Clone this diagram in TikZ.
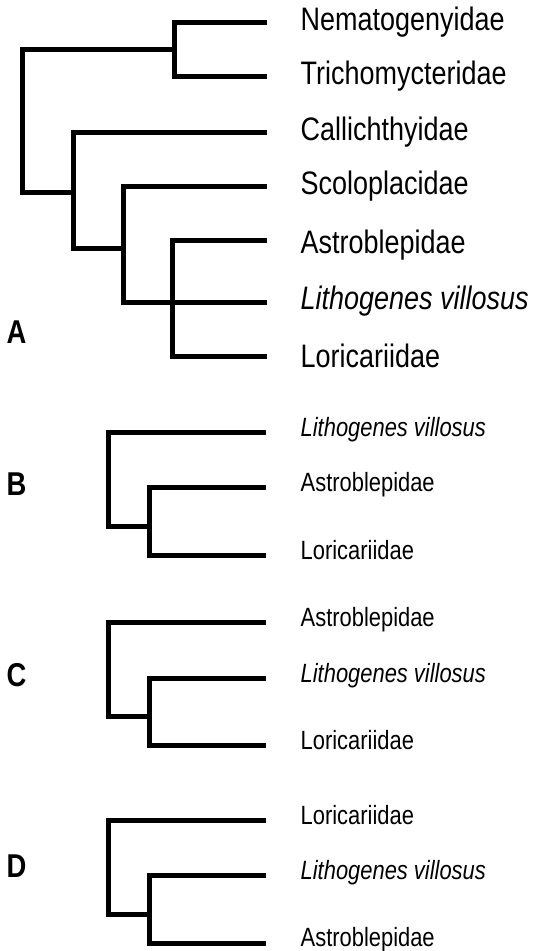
\documentclass[tikz,border=0pt]{standalone}
\usepackage{fontspec}
\setmainfont{Liberation Sans}
\newfontfamily\taxfont[FakeStretch=0.83]{Liberation Sans}
\begin{document}
\begin{tikzpicture}[x=1pt,y=-1pt,
  branch/.style={line width=5pt, line cap=butt, line join=miter, black},
  big/.style={font=\taxfont\fontsize{32.5}{39}\selectfont, anchor=base west, inner sep=0pt},
  small/.style={font=\taxfont\fontsize{26.4}{32}\selectfont, anchor=base west, inner sep=0pt},
  panel/.style={font=\taxfont\bfseries\fontsize{33}{40}\selectfont, anchor=base west, inner sep=0pt}]
\useasboundingbox (0,0) rectangle (535,951);

% ---------------- Panel A ----------------
\node[panel] (labA) at (6.5,343.3) {A};
\node[big] (a1) at (300.5,30.7) {Nematogenyidae};
\node[big] (a2) at (300.5,84.3) {Trichomycteridae};
\node[big] (a3) at (300.5,140) {Callichthyidae};
\node[big] (a4) at (300.5,194.3) {Scoloplacidae};
\node[big] (a5) at (300.5,253.3) {Astroblepidae};
\node[big] (a6) at (300.5,309) {\itshape Lithogenes villosus};
\node[big] (a7) at (300.5,367.7) {Loricariidae};

\coordinate (tA1) at (266.5,22);
\coordinate (tA2) at (266.5,76.3);
\coordinate (tA3) at (266.5,132.3);
\coordinate (tA4) at (266.5,186);
\coordinate (tA5) at (266.5,240.7);
\coordinate (tA6) at (266.5,302);
\coordinate (tA7) at (266.5,356.7);
\coordinate (nA1) at (174,49.3);
\coordinate (rA) at (22.5,192.7);
\coordinate (nA2) at (73.5,192.7);
\coordinate (nA3) at (123.3,248.3);
\coordinate (nA4) at (172.5,302);

\draw[branch] (tA1) -| (nA1) |- (tA2);
\draw[branch] (nA1) -| (rA) -- (nA2);
\draw[branch] (tA3) -| (nA2) |- (nA3);
\draw[branch] (tA4) -| (nA3) |- (tA6);
\draw[branch] (tA5) -| (nA4) |- (tA7);

% ---------------- Panel B ----------------
\node[panel] (labB) at (6.5,495) {B};
\node[small] (b1) at (300.5,436.3) {\itshape Lithogenes villosus};
\node[small] (b2) at (300.5,491.8) {Astroblepidae};
\node[small] (b3) at (300.5,559.7) {Loricariidae};
\coordinate (tB1) at (266,432.3);
\coordinate (tB2) at (266,487.8);
\coordinate (tB3) at (266,555.7);
\coordinate (rB) at (108.5,526.5);
\coordinate (iB) at (149.2,526.5);
\draw[branch] (tB1) -| (rB) -- (iB);
\draw[branch] (tB2) -| (iB) |- (tB3);

% ---------------- Panel C ----------------
\node[panel] (labC) at (6.5,686.5) {C};
\node[small] (c1) at (300.5,626.3) {Astroblepidae};
\node[small] (c2) at (300.5,682.3) {\itshape Lithogenes villosus};
\node[small] (c3) at (300.5,749) {Loricariidae};
\coordinate (tC1) at (266,622.3);
\coordinate (tC2) at (266,678.3);
\coordinate (tC3) at (266,745);
\coordinate (rC) at (108.5,716.3);
\coordinate (iC) at (149.2,716.3);
\draw[branch] (tC1) -| (rC) -- (iC);
\draw[branch] (tC2) -| (iC) |- (tC3);

% ---------------- Panel D ----------------
\node[panel] (labD) at (6.5,877.3) {D};
\node[small] (d1) at (300.5,824) {Loricariidae};
\node[small] (d2) at (300.5,879.7) {\itshape Lithogenes villosus};
\node[small] (d3) at (300.5,946.5) {Astroblepidae};
\coordinate (tD1) at (266,820);
\coordinate (tD2) at (266,875.7);
\coordinate (tD3) at (266,943.3);
\coordinate (rD) at (108.5,914.3);
\coordinate (iD) at (149.2,914.3);
\draw[branch] (tD1) -| (rD) -- (iD);
\draw[branch] (tD2) -| (iD) |- (tD3);
\end{tikzpicture}
\end{document}
